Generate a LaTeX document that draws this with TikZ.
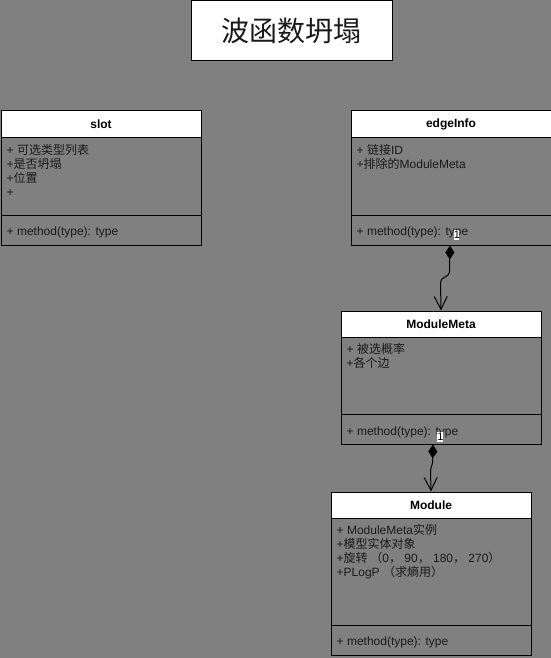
\documentclass[tikz,border=0pt]{standalone}
\usepackage{fontspec}
\setmainfont{Liberation Sans}
\newfontfamily\cjk{Noto Sans CJK SC}
\usetikzlibrary{arrows.meta}
\definecolor{bg}{HTML}{808080}
\definecolor{txt}{HTML}{1A1A1A}
\begin{document}
\begin{tikzpicture}[x=1pt,y=-1pt,
 hdr/.style={draw=black, line width=1pt, fill=white, anchor=north west, minimum width=200pt, minimum height=26pt, inner sep=0pt, font=\fontsize{12}{14}\selectfont\bfseries, text=black},
 sect/.style={draw=black, line width=1pt, anchor=north west, minimum width=200pt, inner sep=0pt},
 attr/.style={anchor=base west, inner sep=0pt, font=\fontsize{12}{14}\selectfont, text=txt},
 comp/.style={draw=black, line width=1pt, {Diamond[length=14pt,width=9pt]}-{Straight Barb[length=13pt,width=13pt]}},
 mult/.style={fill=white, inner xsep=0pt, inner ysep=0pt, text height=8.5pt, text depth=1.5pt, text width=5.5pt, align=center, font=\fontsize{11}{11}\selectfont, text=black}
]
\fill[bg] (0,0) rectangle (551,658);
\useasboundingbox (0,0) rectangle (551,658);

% title
\node[draw=black, line width=1pt, fill=white, anchor=north west, minimum width=201pt, minimum height=60pt, inner sep=0pt, text=txt] (title) at (190.5,0.5) {\cjk\fontsize{28}{30}\selectfont 波函数坍塌};

% slot
\node[hdr] (slotH) at (0.5,110.5) {slot};
\node[sect, minimum height=78pt] (slotB) at (0.5,136.5) {};
\node[sect, minimum height=30pt] (slotM) at (0.5,214.5) {};
\node[attr] (slotA1) at (6.5,154.5) {+ {\cjk 可选类型列表}};
\node[attr] (slotA2) at (6.5,168.5) {+{\cjk 是否坍塌}};
\node[attr] (slotA3) at (6.5,182.5) {+{\cjk 位置}};
\node[attr] (slotA4) at (6.5,196.5) {+};
\node[attr] (slotM1) at (6.5,235.5) {+ method(type): type};

% edgeInfo
\node[hdr] (eiH) at (350.5,110.5) {edgeInfo};
\node[sect, minimum height=78pt] (eiB) at (350.5,136.5) {};
\node[sect, minimum height=30pt] (eiM) at (350.5,214.5) {};
\node[attr] (eiA1) at (356.5,154.5) {+ {\cjk 链接}ID};
\node[attr] (eiA2) at (356.5,168.5) {+{\cjk 排除的}ModuleMeta};
\node[attr] (eiM1) at (356.5,235.5) {+ method(type): type};

% ModuleMeta
\node[hdr] (mmH) at (340.5,310.5) {ModuleMeta};
\node[sect, minimum height=77pt] (mmB) at (340.5,336.5) {};
\node[sect, minimum height=30pt] (mmM) at (340.5,413.5) {};
\node[attr] (mmA1) at (346.5,353.5) {+ {\cjk 被选概率}};
\node[attr] (mmA2) at (346.5,367.5) {+{\cjk 各个边}};
\node[attr] (mmM1) at (346.5,435.5) {+ method(type): type};

% Module
\node[hdr] (modH) at (330.5,491.5) {Module};
\node[sect, minimum height=107pt] (modB) at (330.5,517.5) {};
\node[sect, minimum height=30pt] (modM) at (330.5,624.5) {};
\node[attr] (modA1) at (336.5,534.5) {+ ModuleMeta{\cjk 实例}};
\node[attr] (modA2) at (336.5,548.5) {+{\cjk 模型实体对象}};
\node[attr] (modA3) at (336.5,562.5) {+{\cjk 旋转 （}0{\cjk ，} 90{\cjk ，} 180{\cjk ，} 270{\cjk ）}};
\node[attr] (modA4) at (336.5,576.5) {+PLogP {\cjk （求熵用）}};
\node[attr] (modM1) at (336.5,645.5) {+ method(type): type};

% connectors
\coordinate (k1) at (449.5,272);
\coordinate (k2) at (440.5,282);
\draw[comp] ([xshift=-1pt]eiM.south) -- (k1) .. controls +(0,5) and +(0,-5) .. (k2) -- (mmH.north);
\coordinate (k3) at (432.5,463);
\coordinate (k4) at (430.5,470);
\draw[comp] ([xshift=-8pt]mmM.south) -- (k3) .. controls +(0,3) and +(0,-3) .. (k4) -- (modH.north);

% multiplicities
\node[mult] (m1) at (456.7,235) {1};
\node[mult] (m2) at (440,436.7) {1};
\end{tikzpicture}
\end{document}
